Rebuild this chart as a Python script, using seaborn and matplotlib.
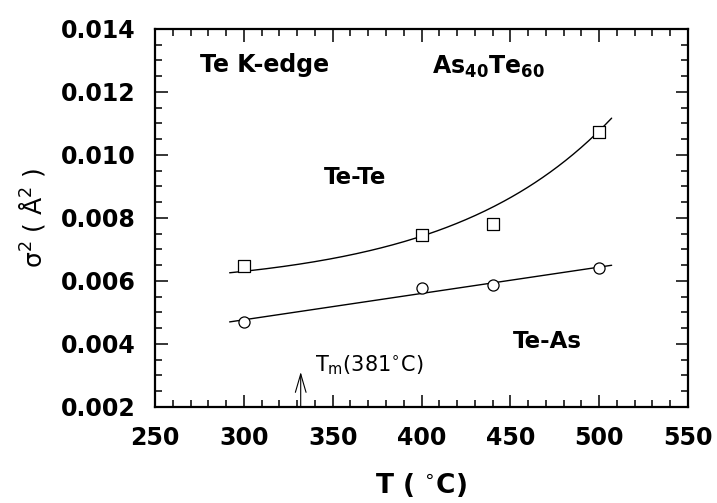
import numpy as np
import pandas as pd
import matplotlib
matplotlib.use("Agg")
import matplotlib.pyplot as plt
from matplotlib.ticker import MultipleLocator, FormatStrFormatter
import seaborn as sns

# Debye-Waller factors of As40Te60 at the Te K-edge
T_tete = [300, 400, 440, 500]
sigma2_tete = [0.00648, 0.00746, 0.00781, 0.01073]

T_teas = [300, 400, 440, 500]
sigma2_teas = [0.00470, 0.00578, 0.00587, 0.00640]

# Te-Te guide curve: a + b * exp(c * (T - T0))
tete_curve = dict(a=0.005751, b=0.000509, c=0.0110, T0=292.0)
curve_range = (292.0, 507.0)

# melting point marker
T_melt_arrow = 332.0
arrow_tip = 0.00311

xticks = [250, 300, 350, 400, 450, 500, 550]
yticks = [0.002, 0.004, 0.006, 0.008, 0.010, 0.012, 0.014]

sns.set_theme(style="ticks")
plt.rcParams["font.family"] = ["DejaVu Sans"]
plt.rcParams["mathtext.fontset"] = "dejavusans"
for key in ("text.color", "axes.labelcolor", "xtick.color", "ytick.color",
            "axes.edgecolor"):
    plt.rcParams[key] = "black"

fig = plt.figure(figsize=(7.17, 5.03), dpi=100)
ax = fig.add_axes([0.2162, 0.1909, 0.7434, 0.7515])

# fitted curves
Tc = np.linspace(*curve_range, 200)
p = tete_curve
tete_fit = pd.DataFrame({"T": Tc, "s": p["a"] + p["b"] * np.exp(p["c"] * (Tc - p["T0"]))})
slope, icpt = np.polyfit(T_teas, sigma2_teas, 1)
teas_fit = pd.DataFrame({"T": Tc, "s": icpt + slope * Tc})

sns.lineplot(data=tete_fit, x="T", y="s", ax=ax, color="black", linewidth=1.0)
sns.lineplot(data=teas_fit, x="T", y="s", ax=ax, color="black", linewidth=1.0)

sns.scatterplot(x=T_tete, y=sigma2_tete, ax=ax, marker="s", s=72,
                facecolor="white", edgecolor="black", linewidth=0.9, zorder=5)
sns.scatterplot(x=T_teas, y=sigma2_teas, ax=ax, marker="o", s=64,
                facecolor="white", edgecolor="black", linewidth=0.9, zorder=5)

ax.set_xlim(250, 550)
ax.set_ylim(0.002, 0.014)
ax.set_xticks(xticks)
ax.set_yticks(yticks)
ax.xaxis.set_minor_locator(MultipleLocator(10))
ax.yaxis.set_minor_locator(MultipleLocator(0.0005))
ax.yaxis.set_major_formatter(FormatStrFormatter("%.3f"))

ax.tick_params(which="both", direction="in", top=True, right=True,
               width=1.1, color="black")
ax.tick_params(which="major", length=9)
ax.tick_params(which="minor", length=5)
ax.tick_params(axis="y", which="major", pad=14, labelsize=17)
ax.tick_params(axis="x", which="major", pad=14, labelsize=17)
for lab in ax.get_xticklabels() + ax.get_yticklabels():
    lab.set_fontweight("bold")
for sp in ax.spines.values():
    sp.set_linewidth(1.6)
    sp.set_color("black")

ax.set_xlabel(r"T ( $^{\circ}$C)", fontsize=19, fontweight="bold", labelpad=15)
ax.set_ylabel("σ$^2$ ( Å$^2$ )", fontsize=18, labelpad=10)

ax.text(0.085, 0.905, "Te K-edge", transform=ax.transAxes, fontsize=17,
        fontweight="bold", va="center", ha="left")
ax.text(0.52, 0.90, r"As$_{\mathbf{40}}$Te$_{\mathbf{60}}$", transform=ax.transAxes,
        fontsize=17, fontweight="bold", va="center", ha="left")
ax.text(0.376, 0.606, "Te-Te", transform=ax.transAxes, fontsize=16.5,
        fontweight="bold", va="center", ha="center")
ax.text(0.737, 0.172, "Te-As", transform=ax.transAxes, fontsize=16.5,
        fontweight="bold", va="center", ha="center")
ax.text(0.300, 0.11, r"T$_{\rm m}$(381$^{\circ}$C)", transform=ax.transAxes,
        fontsize=15, va="center", ha="left")

# melting point arrow with an open head
ax.annotate("", xy=(T_melt_arrow, arrow_tip), xytext=(T_melt_arrow, 0.002),
            arrowprops=dict(arrowstyle="->,head_length=1.1,head_width=0.32",
                            color="black", linewidth=0.8, shrinkA=0, shrinkB=0))

fig.savefig("out.png", dpi=100)
